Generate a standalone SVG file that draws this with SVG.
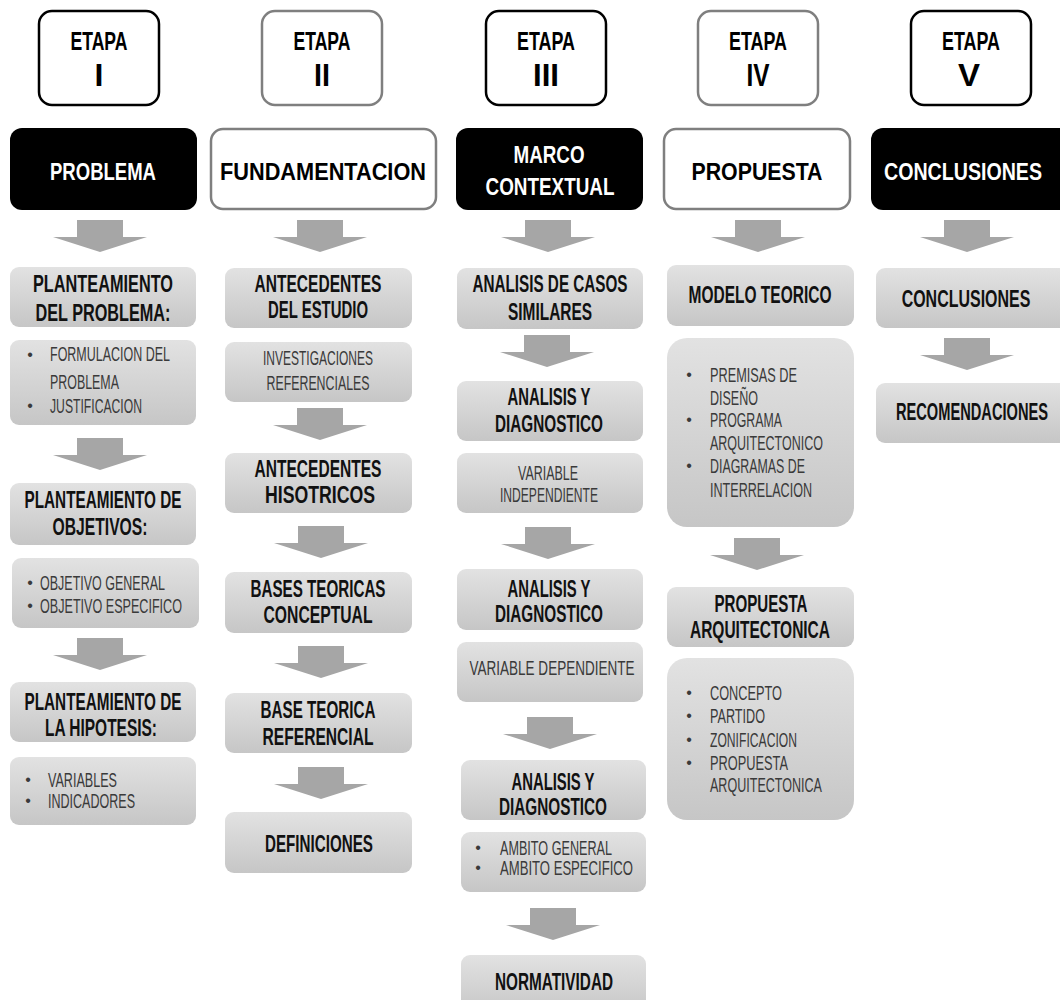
<svg xmlns="http://www.w3.org/2000/svg" xmlns:xlink="http://www.w3.org/1999/xlink" width="1060" height="1000" viewBox="0 0 1060 1000">
<defs>
<linearGradient id="gg" x1="0" y1="0" x2="0" y2="1">
<stop offset="0" stop-color="#e2e2e2"/>
<stop offset="1" stop-color="#c6c6c6"/>
</linearGradient>
<path id="arr" d="M-23,0H23V17H47L0,32L-47,17H-23Z" fill="#a6a6a6"/>
<style>
text{font-family:"Liberation Sans",Arial,sans-serif;text-anchor:middle}
.hb{fill:#fff;stroke:#000;stroke-width:2.5}
.hg{fill:#fff;stroke:#7f7f7f;stroke-width:2.5}
.blk{fill:#000}
.et{font-size:25px;font-weight:bold;fill:#000}
.num{font-size:32px;font-weight:bold;fill:#000}
.mw{font-size:24px;font-weight:bold;fill:#fff}
.mb{font-size:24px;font-weight:bold;fill:#000}
.g{fill:url(#gg)}
.tb{font-size:23px;font-weight:bold;fill:#111}
.tr{font-size:20px;fill:#3a3a3a}
.tl{font-size:20px;fill:#3a3a3a;text-anchor:start}
.bu{font-size:16px;fill:#3a3a3a}
</style>
</defs>

<!-- Stage headers -->
<g id="etapa1"><rect class="hb" x="39" y="11" width="120" height="94" rx="13"/><text class="et" x="99" y="50" textLength="57" lengthAdjust="spacingAndGlyphs">ETAPA</text><text class="num" x="99" y="86">I</text></g>
<g id="etapa2"><rect class="hg" x="262" y="11" width="120" height="94" rx="13"/><text class="et" x="322" y="50" textLength="57" lengthAdjust="spacingAndGlyphs">ETAPA</text><text class="num" x="322" y="86" textLength="16" lengthAdjust="spacingAndGlyphs">II</text></g>
<g id="etapa3"><rect class="hb" x="486" y="11" width="120" height="94" rx="13"/><text class="et" x="546" y="50" textLength="58" lengthAdjust="spacingAndGlyphs">ETAPA</text><text class="num" x="546" y="86" textLength="26" lengthAdjust="spacingAndGlyphs">III</text></g>
<g id="etapa4"><rect class="hg" x="698" y="11" width="120" height="94" rx="13"/><text class="et" x="758" y="50" textLength="58" lengthAdjust="spacingAndGlyphs">ETAPA</text><text class="num" x="758" y="86" textLength="23" lengthAdjust="spacingAndGlyphs">IV</text></g>
<g id="etapa5"><rect class="hb" x="911" y="11" width="120" height="94" rx="13"/><text class="et" x="971" y="50" textLength="58" lengthAdjust="spacingAndGlyphs">ETAPA</text><text class="num" x="969" y="86" textLength="22" lengthAdjust="spacingAndGlyphs">V</text></g>

<!-- Main phase boxes -->
<g id="problema"><rect class="blk" x="10" y="128" width="187" height="82" rx="12"/><text class="mw" x="103" y="180" textLength="106" lengthAdjust="spacingAndGlyphs">PROBLEMA</text></g>
<g id="fundamentacion"><rect class="hg" x="211" y="129" width="225" height="80" rx="12"/><text class="mb" x="323" y="180" textLength="206" lengthAdjust="spacingAndGlyphs">FUNDAMENTACION</text></g>
<g id="marco"><rect class="blk" x="456" y="128" width="187" height="82" rx="12"/><text class="mw" x="549" y="163" textLength="71" lengthAdjust="spacingAndGlyphs">MARCO</text><text class="mw" x="550" y="195" textLength="129" lengthAdjust="spacingAndGlyphs">CONTEXTUAL</text></g>
<g id="propuesta"><rect class="hg" x="664" y="129" width="186" height="80" rx="12"/><text class="mb" x="757" y="180" textLength="131" lengthAdjust="spacingAndGlyphs">PROPUESTA</text></g>
<g id="conclusiones"><path class="blk" d="M883,128H1060V210H883A12,12 0 0 1 871,198V140A12,12 0 0 1 883,128Z"/><text class="mw" transform="translate(963 180) scale(0.818 1)" x="0" y="0">CONCLUSIONES</text></g>

<!-- Column 1 -->
<g id="c1a"><rect class="g" x="10" y="267" width="186" height="60" rx="9"/><text class="tb" x="103" y="292" textLength="140" lengthAdjust="spacingAndGlyphs">PLANTEAMIENTO</text><text class="tb" x="103" y="321" textLength="135" lengthAdjust="spacingAndGlyphs">DEL PROBLEMA:</text></g>
<g id="c1b"><rect class="g" x="10" y="340" width="186" height="85" rx="9"/><text class="bu" x="30" y="360">•</text><text class="tl" x="50" y="361" textLength="120" lengthAdjust="spacingAndGlyphs">FORMULACION DEL</text><text class="tl" x="50" y="389" textLength="69" lengthAdjust="spacingAndGlyphs">PROBLEMA</text><text class="bu" x="30" y="411">•</text><text class="tl" x="50" y="413" textLength="92" lengthAdjust="spacingAndGlyphs">JUSTIFICACION</text></g>
<g id="c1c"><rect class="g" x="10" y="483" width="186" height="62" rx="9"/><text class="tb" x="103" y="508" textLength="157" lengthAdjust="spacingAndGlyphs">PLANTEAMIENTO DE</text><text class="tb" x="100" y="535" textLength="95" lengthAdjust="spacingAndGlyphs">OBJETIVOS:</text></g>
<g id="c1d"><rect class="g" x="12" y="558" width="187" height="70" rx="9"/><text class="bu" x="30" y="588">•</text><text class="tl" x="40" y="590" textLength="125" lengthAdjust="spacingAndGlyphs">OBJETIVO GENERAL</text><text class="bu" x="30" y="611">•</text><text class="tl" x="40" y="613" textLength="142" lengthAdjust="spacingAndGlyphs">OBJETIVO ESPECIFICO</text></g>
<g id="c1e"><rect class="g" x="10" y="682" width="186" height="60" rx="9"/><text class="tb" x="103" y="710" textLength="157" lengthAdjust="spacingAndGlyphs">PLANTEAMIENTO DE</text><text class="tb" x="101" y="736" textLength="112" lengthAdjust="spacingAndGlyphs">LA HIPOTESIS:</text></g>
<g id="c1f"><rect class="g" x="10" y="757" width="186" height="68" rx="9"/><text class="bu" x="28" y="785">•</text><text class="tl" x="48" y="787" textLength="69" lengthAdjust="spacingAndGlyphs">VARIABLES</text><text class="bu" x="28" y="806">•</text><text class="tl" x="48" y="808" textLength="87" lengthAdjust="spacingAndGlyphs">INDICADORES</text></g>

<!-- Column 2 -->
<g id="c2a"><rect class="g" x="225" y="268" width="187" height="60" rx="9"/><text class="tb" x="318" y="292" textLength="127" lengthAdjust="spacingAndGlyphs">ANTECEDENTES</text><text class="tb" x="318" y="318" textLength="100" lengthAdjust="spacingAndGlyphs">DEL ESTUDIO</text></g>
<g id="c2b"><rect class="g" x="225" y="342" width="187" height="60" rx="9"/><text class="tr" x="318" y="365" textLength="110" lengthAdjust="spacingAndGlyphs">INVESTIGACIONES</text><text class="tr" x="318" y="390" textLength="103" lengthAdjust="spacingAndGlyphs">REFERENCIALES</text></g>
<g id="c2c"><rect class="g" x="225" y="453" width="187" height="60" rx="9"/><text class="tb" x="318" y="477" textLength="127" lengthAdjust="spacingAndGlyphs">ANTECEDENTES</text><text class="tb" x="320" y="503" textLength="110" lengthAdjust="spacingAndGlyphs">HISOTRICOS</text></g>
<g id="c2d"><rect class="g" x="225" y="572" width="187" height="61" rx="9"/><text class="tb" x="318" y="597" textLength="135" lengthAdjust="spacingAndGlyphs">BASES TEORICAS</text><text class="tb" x="318" y="623" textLength="109" lengthAdjust="spacingAndGlyphs">CONCEPTUAL</text></g>
<g id="c2e"><rect class="g" x="225" y="693" width="187" height="60" rx="9"/><text class="tb" x="318" y="718" textLength="115" lengthAdjust="spacingAndGlyphs">BASE TEORICA</text><text class="tb" x="318" y="745" textLength="111" lengthAdjust="spacingAndGlyphs">REFERENCIAL</text></g>
<g id="c2f"><rect class="g" x="225" y="812" width="187" height="61" rx="9"/><text class="tb" x="319" y="852" textLength="108" lengthAdjust="spacingAndGlyphs">DEFINICIONES</text></g>

<!-- Column 3 -->
<g id="c3a"><rect class="g" x="457" y="268" width="186" height="61" rx="9"/><text class="tb" x="550" y="292" textLength="155" lengthAdjust="spacingAndGlyphs">ANALISIS DE CASOS</text><text class="tb" x="550" y="320" textLength="84" lengthAdjust="spacingAndGlyphs">SIMILARES</text></g>
<g id="c3b"><rect class="g" x="457" y="381" width="186" height="60" rx="9"/><text class="tb" x="549" y="405" textLength="83" lengthAdjust="spacingAndGlyphs">ANALISIS Y</text><text class="tb" x="549" y="432" textLength="108" lengthAdjust="spacingAndGlyphs">DIAGNOSTICO</text></g>
<g id="c3c"><rect class="g" x="457" y="453" width="186" height="60" rx="9"/><text class="tr" x="548" y="480" textLength="60" lengthAdjust="spacingAndGlyphs">VARIABLE</text><text class="tr" x="549" y="502" textLength="98" lengthAdjust="spacingAndGlyphs">INDEPENDIENTE</text></g>
<g id="c3d"><rect class="g" x="457" y="569" width="186" height="61" rx="9"/><text class="tb" x="549" y="597" textLength="83" lengthAdjust="spacingAndGlyphs">ANALISIS Y</text><text class="tb" x="549" y="622" textLength="108" lengthAdjust="spacingAndGlyphs">DIAGNOSTICO</text></g>
<g id="c3e"><rect class="g" x="457" y="642" width="186" height="60" rx="9"/><text class="tr" x="552" y="675" textLength="165" lengthAdjust="spacingAndGlyphs">VARIABLE DEPENDIENTE</text></g>
<g id="c3f"><rect class="g" x="461" y="760" width="185" height="60" rx="9"/><text class="tb" x="553" y="790" textLength="83" lengthAdjust="spacingAndGlyphs">ANALISIS Y</text><text class="tb" x="553" y="815" textLength="108" lengthAdjust="spacingAndGlyphs">DIAGNOSTICO</text></g>
<g id="c3g"><rect class="g" x="461" y="832" width="185" height="60" rx="9"/><text class="bu" x="478" y="853">•</text><text class="tl" x="500" y="855" textLength="112" lengthAdjust="spacingAndGlyphs">AMBITO GENERAL</text><text class="bu" x="478" y="873">•</text><text class="tl" x="500" y="875" textLength="133" lengthAdjust="spacingAndGlyphs">AMBITO ESPECIFICO</text></g>
<g id="c3h"><rect class="g" x="461" y="955" width="185" height="60" rx="9"/><text class="tb" x="554" y="990" textLength="118" lengthAdjust="spacingAndGlyphs">NORMATIVIDAD</text></g>

<!-- Column 4 -->
<g id="c4a"><rect class="g" x="667" y="265" width="187" height="61" rx="9"/><text class="tb" x="760" y="303" textLength="143" lengthAdjust="spacingAndGlyphs">MODELO TEORICO</text></g>
<g id="c4b"><rect class="g" x="667" y="338" width="187" height="189" rx="20"/><text class="bu" x="689" y="380">•</text><text class="tl" x="710" y="382" textLength="87" lengthAdjust="spacingAndGlyphs">PREMISAS DE</text><text class="tl" x="710" y="405" textLength="48" lengthAdjust="spacingAndGlyphs">DISEÑO</text><text class="bu" x="689" y="425">•</text><text class="tl" x="710" y="427" textLength="72" lengthAdjust="spacingAndGlyphs">PROGRAMA</text><text class="tl" x="710" y="450" textLength="113" lengthAdjust="spacingAndGlyphs">ARQUITECTONICO</text><text class="bu" x="689" y="471">•</text><text class="tl" x="710" y="473" textLength="95" lengthAdjust="spacingAndGlyphs">DIAGRAMAS DE</text><text class="tl" x="710" y="497" textLength="102" lengthAdjust="spacingAndGlyphs">INTERRELACION</text></g>
<g id="c4c"><rect class="g" x="667" y="587" width="187" height="60" rx="9"/><text class="tb" x="761" y="612" textLength="93" lengthAdjust="spacingAndGlyphs">PROPUESTA</text><text class="tb" x="760" y="638" textLength="140" lengthAdjust="spacingAndGlyphs">ARQUITECTONICA</text></g>
<g id="c4d"><rect class="g" x="667" y="658" width="187" height="162" rx="20"/><text class="bu" x="689" y="698">•</text><text class="tl" x="710" y="700" textLength="72" lengthAdjust="spacingAndGlyphs">CONCEPTO</text><text class="bu" x="689" y="721">•</text><text class="tl" x="710" y="723" textLength="55" lengthAdjust="spacingAndGlyphs">PARTIDO</text><text class="bu" x="689" y="745">•</text><text class="tl" x="710" y="747" textLength="87" lengthAdjust="spacingAndGlyphs">ZONIFICACION</text><text class="bu" x="689" y="768">•</text><text class="tl" x="710" y="770" textLength="78" lengthAdjust="spacingAndGlyphs">PROPUESTA</text><text class="tl" x="710" y="792" textLength="112" lengthAdjust="spacingAndGlyphs">ARQUITECTONICA</text></g>

<!-- Column 5 -->
<g id="c5a"><path class="g" d="M885,268H1060V328H885A9,9 0 0 1 876,319V277A9,9 0 0 1 885,268Z"/><text class="tb" transform="translate(966 307) scale(0.695 1)" x="0" y="0">CONCLUSIONES</text></g>
<g id="c5b"><path class="g" d="M885,383H1060V443H885A9,9 0 0 1 876,434V392A9,9 0 0 1 885,383Z"/><text class="tb" transform="translate(972 420) scale(0.637 1)" x="0" y="0">RECOMENDACIONES</text></g>

<!-- Connectors -->
<g id="connectors">
<use xlink:href="#arr" x="100" y="220"/>
<use xlink:href="#arr" x="100" y="438"/>
<use xlink:href="#arr" x="100" y="638"/>
<use xlink:href="#arr" x="320" y="220"/>
<use xlink:href="#arr" x="320" y="408"/>
<use xlink:href="#arr" x="321" y="526"/>
<use xlink:href="#arr" x="321" y="646"/>
<use xlink:href="#arr" x="321" y="767"/>
<use xlink:href="#arr" x="548" y="220"/>
<use xlink:href="#arr" x="547" y="335"/>
<use xlink:href="#arr" x="548" y="527"/>
<use xlink:href="#arr" x="550" y="717"/>
<use xlink:href="#arr" x="553" y="908"/>
<use xlink:href="#arr" x="758" y="220"/>
<use xlink:href="#arr" x="757" y="538"/>
<use xlink:href="#arr" x="967" y="220"/>
<use xlink:href="#arr" x="967" y="338"/>
</g>
</svg>
